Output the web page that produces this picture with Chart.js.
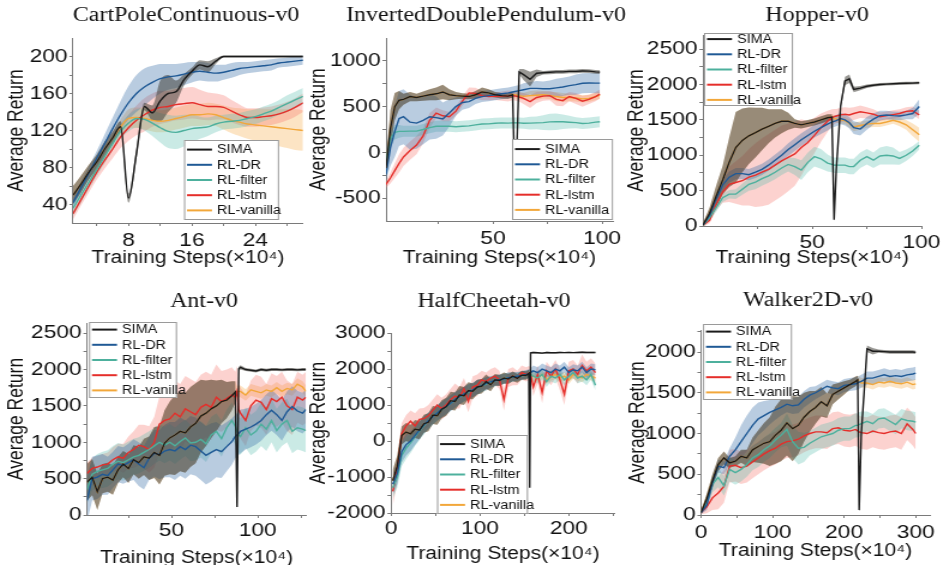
<!DOCTYPE html>
<html>
<head>
<meta charset="utf-8">
<script src="https://cdn.jsdelivr.net/npm/chart.js@4.4.0/dist/chart.umd.min.js"></script>
<style>
html, body { margin: 0; padding: 0; background: #fff; width: 943px; height: 565px; overflow: hidden; position: relative; }
</style>
</head>
<body>
<script>
// ---- data ----
const SERIES = ['SIMA', 'RL-DR', 'RL-filter', 'RL-lstm', 'RL-vanilla'];

// CartPoleContinuous-v0
const cpSteps = [1,2,3,4,5,6,7,8,9,10,11,12,13,14,15,16,17,18,19,20,21,22,23,24,25,26,27,28,29,30];
const cpSima = [50,62,75,86,100,112,124,47,95,146,139,152,160,162,175,184,191,189,195,200,200,200,200,200,200,200,200,200,200,200];
const cpSimaSd = [10,9,8,8,8,7,6,5,6,4,8,22,20,12,6,4,5,6,3,1,1,1,1,1,1,1,1,1,1,1];
const cpDr = [42,58,74,90,106,122,137,150,160,167,172,176,178,179,181,183,184,183,182,183,185,187,188,189,190,191,193,194,195,196];
const cpDrSd = [5,6,7,8,10,12,15,18,20,20,18,16,14,13,12,11,10,10,9,8,8,7,6,6,6,6,5,5,5,5];
const cpFilter = [36,50,64,78,92,106,119,128,133,132,128,123,119,118,120,122,123,124,127,129,130,131,133,135,138,141,145,149,153,157];
const cpFilterSd = [8,8,7,7,7,7,8,9,10,12,14,16,18,18,17,15,12,10,9,8,8,8,8,8,8,8,8,9,9,9];
const cpLstm = [30,45,60,75,88,100,113,123,131,137,142,145,146,148,149,150,148,146,146,145,141,137,134,134,135,136,138,141,145,150];
const cpLstmSd = [6,6,7,8,9,10,12,14,16,18,18,18,17,17,17,17,16,15,14,13,12,11,10,10,10,10,10,10,10,10];
const cpVanilla = [50,62,75,86,100,112,124,133,134,133,131,130,131,133,135,137,137,138,137,134,131,129,127,126,125,124,123,122,121,120];
const cpVanillaSd = [10,9,8,8,8,7,8,10,11,12,12,12,12,12,12,12,12,12,12,13,14,15,16,17,18,19,20,21,22,22];
const cpXTicks = [8, 16, 24];
const cpXMinor = [4, 12, 20, 28];
const cpYTicks = [40, 80, 120, 160, 200];
const cpYMinor = [60, 100, 140, 180];

// InvertedDoublePendulum-v0
const idpSteps = [1,3,5,7,9,12,15,18,21,24,27,30,33,36,39,42,45,48,51,54,57,59,60,61,62,64,67,70,73,76,79,82,85,88,91,94,97,99];
const idpSima = [-170,260,500,570,580,610,600,615,630,640,660,630,620,615,610,630,660,650,630,620,615,630,-320,100,880,850,800,865,870,875,880,880,885,885,890,888,880,877];
const idpSimaSd = [80,200,150,100,60,50,40,50,60,70,80,60,40,30,30,40,50,40,30,30,30,30,20,20,30,60,80,40,20,20,20,20,20,20,20,20,20,20];
const idpDr = [-240,50,230,370,390,330,320,350,390,380,365,430,500,545,555,590,610,620,630,640,650,660,665,670,675,685,700,700,695,695,705,715,730,740,755,758,757,757];
const idpDrSd = [60,200,280,300,300,300,280,260,250,230,180,150,100,80,70,60,60,60,60,60,60,60,60,60,60,70,70,80,80,90,100,100,100,110,110,110,110,110];
const idpFilter = [-100,150,220,230,230,232,232,250,270,285,286,286,280,286,290,300,310,312,318,322,320,322,322,322,322,318,320,322,325,333,335,335,330,325,315,320,330,335];
const idpFilterSd = [60,80,80,70,60,60,60,60,60,60,60,60,60,60,60,60,60,60,60,60,60,60,60,60,60,60,70,70,80,90,90,80,70,60,60,60,60,60];
const idpLstm = [-350,-280,-200,-120,-50,20,80,180,350,430,400,390,450,560,650,645,620,610,612,615,615,620,618,612,605,590,555,600,615,620,580,565,610,590,560,580,610,638];
const idpLstmSd = [40,60,80,100,100,100,100,80,80,60,60,50,50,50,60,60,50,40,40,50,60,50,50,50,50,60,70,60,50,50,70,60,50,60,60,50,50,50];
const idpVanilla = [-170,260,500,570,580,610,600,615,630,640,660,630,620,615,610,630,660,650,630,620,615,630,630,625,620,612,620,625,630,623,610,600,600,595,585,590,610,625];
const idpVanillaSd = [80,200,150,100,60,50,40,50,60,70,80,60,40,30,30,40,50,40,30,30,30,30,40,40,40,40,50,50,40,40,50,50,40,40,40,40,40,40];
const idpXTicks = [50, 100];
const idpXMinor = [25, 75];
const idpYTicks = [-500, 0, 500, 1000];
const idpYMinor = [-250, 250, 750];

// Hopper-v0
const hopSteps = [0,3,6,9,12,15,18,21,24,27,30,33,36,39,42,45,48,51,54,57,59,60,61,63,65,67,69,72,75,78,81,84,87,90,93,96,99];
const hopSima = [14,180,420,650,900,1110,1210,1275,1320,1370,1410,1450,1480,1480,1450,1430,1450,1470,1500,1530,1540,90,800,1700,2050,2080,1930,1950,1975,1990,2000,2005,2010,2015,2018,2020,2024];
const hopSimaSd = [30,80,150,200,350,500,450,400,350,300,240,200,170,120,60,50,50,50,50,50,40,30,30,40,60,60,40,30,25,20,20,20,20,20,20,20,20];
const hopDr = [14,150,380,580,690,740,740,725,760,800,860,930,1000,1080,1150,1220,1280,1340,1390,1440,1470,1480,1490,1520,1500,1460,1390,1370,1450,1510,1560,1570,1560,1555,1570,1590,1690];
const hopDrSd = [20,40,60,80,80,80,80,80,80,80,80,80,80,90,90,90,90,90,90,90,80,80,80,80,80,80,90,90,90,80,70,60,60,60,60,80,100];
const hopFilter = [10,120,260,400,450,450,520,590,620,670,710,760,820,870,840,790,900,980,950,890,870,860,860,860,860,840,840,930,980,930,990,1000,990,955,1000,1060,1140];
const hopFilterSd = [20,40,60,60,60,70,80,90,100,100,100,100,100,100,120,140,140,140,140,120,110,110,110,110,110,110,110,110,110,110,120,130,120,90,80,70,60];
const hopLstm = [10,80,300,480,590,615,640,690,720,760,800,860,920,970,1020,1110,1180,1280,1390,1480,1530,1545,1555,1570,1580,1570,1590,1615,1600,1580,1545,1560,1575,1590,1620,1630,1570];
const hopLstmSd = [20,40,80,150,250,300,350,400,450,480,500,500,500,480,450,400,300,250,200,150,120,110,100,100,100,100,90,90,80,70,60,60,60,60,60,60,60];
const hopVanilla = [14,180,420,650,900,1110,1210,1275,1320,1370,1410,1450,1480,1480,1450,1430,1450,1470,1500,1530,1540,1520,1510,1500,1490,1450,1400,1420,1440,1450,1450,1470,1495,1470,1430,1360,1290];
const hopVanillaSd = [30,80,150,200,350,500,450,400,350,300,240,200,170,120,60,50,50,50,50,50,40,50,50,50,50,60,60,60,50,50,50,50,50,60,70,90,100];
const hopXTicks = [50, 100];
const hopXMinor = [25, 75];
const hopYTicks = [0, 500, 1000, 1500, 2000, 2500];
const hopYMinor = [250, 750, 1250, 1750, 2250];

// Ant-v0
const antSteps = [1,4,7,10,13,16,19,22,25,28,31,34,37,40,43,46,49,52,55,58,61,64,67,70,73,76,79,82,85,87,88,89,90,93,96,99,102,105,108,111,114,117,120,123,126,128];
const antSima = [450,520,320,500,520,480,620,700,640,760,720,800,780,860,820,990,1060,1100,1150,1130,1210,1260,1360,1400,1460,1500,1560,1580,1640,1690,110,2010,2030,2000,1990,1980,2000,1990,2000,2000,1995,2000,2000,1995,2000,2000];
const antSimaSd = [250,250,250,200,200,200,180,180,200,200,220,250,300,350,400,450,500,550,550,550,550,550,500,450,400,350,300,250,200,150,50,30,30,20,20,20,20,20,20,20,20,20,20,20,20,20];
const antDr = [200,500,520,560,540,620,700,680,720,760,700,650,780,850,830,880,900,880,940,900,960,940,880,820,860,900,870,940,1010,1080,1100,1120,1150,1180,1210,1250,1300,1380,1440,1380,1300,1420,1490,1430,1400,1450];
const antDrSd = [300,300,300,280,260,250,250,250,260,280,300,300,300,320,340,360,380,400,400,400,400,400,400,400,400,380,360,340,320,300,300,300,300,280,280,280,280,280,280,280,280,280,280,280,280,280];
const antFilter = [350,560,600,620,640,700,740,720,760,800,820,860,900,950,1000,960,1000,950,1010,1060,990,1000,1040,980,1100,1150,1050,1200,1300,1220,1150,1100,1080,1200,1100,1150,1250,1180,1300,1160,1250,1300,1150,1200,1180,1160];
const antFilterSd = [200,220,240,250,250,250,250,250,250,250,250,250,250,250,250,250,250,250,250,250,250,250,250,250,250,250,250,250,250,250,250,250,250,280,280,280,300,300,300,300,300,300,300,300,300,300];
const antLstm = [570,640,660,690,700,760,800,780,860,900,960,940,900,1000,1250,1300,1320,1400,1350,1460,1420,1380,1480,1520,1480,1620,1560,1600,1650,1620,1700,1450,1400,1300,1500,1580,1550,1450,1600,1560,1620,1500,1450,1620,1580,1620];
const antLstmSd = [150,150,150,150,160,170,180,200,220,250,280,300,320,350,380,400,420,450,450,450,450,450,450,450,450,450,420,400,380,350,350,350,350,350,350,350,350,350,350,350,350,350,350,350,350,350];
const antVanilla = [450,520,320,500,520,480,620,700,640,760,720,800,780,860,820,990,1060,1100,1150,1130,1210,1260,1360,1400,1460,1500,1560,1580,1640,1690,1690,1700,1700,1650,1720,1700,1680,1720,1700,1750,1700,1740,1720,1800,1760,1700];
const antVanillaSd = [250,250,250,200,200,200,180,180,200,200,220,250,300,350,400,450,500,550,550,550,550,550,500,450,400,350,300,250,200,150,80,80,80,80,80,80,80,80,80,80,80,80,80,80,80,80];
const antXTicks = [50, 100];
const antXMinor = [25, 75, 125];
const antYTicks = [0, 500, 1000, 1500, 2000, 2500];
const antYMinor = [250, 750, 1250, 1750, 2250];

// HalfCheetah-v0
const hcSteps = [2,7,12,17,22,27,32,37,42,47,52,57,62,67,72,77,82,87,92,97,102,107,112,117,122,127,132,137,142,147,152,155,156,157,160,165,170,175,180,185,190,195,200,205,210,215,220,225,230];
const hcSima = [-1100,-700,150,250,200,330,300,480,520,720,700,880,950,1120,1100,1280,1250,1400,1380,1500,1520,1650,1560,1700,1680,1750,1720,1800,1740,1830,1820,1880,-1300,2450,2460,2450,2440,2460,2450,2450,2460,2455,2460,2455,2460,2465,2460,2460,2460];
const hcSimaSd = [300,300,250,250,250,250,250,250,250,250,250,250,250,250,250,250,250,230,220,200,200,200,180,160,150,150,140,130,120,120,120,100,30,20,20,20,20,20,20,20,20,20,20,20,20,20,20,20,20];
const hcDr = [-1200,-900,-300,-100,0,150,300,450,560,680,780,880,960,1050,1150,1230,1300,1380,1420,1500,1540,1600,1640,1680,1700,1720,1760,1780,1800,1820,1850,1870,1880,1900,1950,1900,2000,1950,1900,2000,1950,2050,1900,1980,1950,2050,1900,2000,1980];
const hcDrSd = [300,300,300,300,280,260,250,240,230,220,220,220,220,220,220,200,200,200,200,200,180,180,160,150,150,140,140,130,120,120,120,120,120,120,150,150,150,150,150,150,150,150,150,150,150,150,150,150,150];
const hcFilter = [-1300,-1000,-400,-200,-50,120,280,430,560,680,780,870,950,1050,1120,1220,1290,1360,1420,1480,1540,1580,1640,1670,1700,1730,1760,1770,1790,1810,1840,1850,1850,1860,1800,1750,1850,1650,1800,1750,1850,1700,1800,1900,1750,1800,1700,1850,1550];
const hcFilterSd = [300,300,300,300,280,260,250,240,230,220,220,220,220,220,220,200,200,200,200,200,180,180,160,150,150,140,140,130,120,120,120,120,120,120,150,150,150,150,150,150,150,150,150,150,150,150,150,150,150];
const hcLstm = [-1400,-800,200,420,550,420,600,620,700,850,1000,900,1000,1150,1250,1200,1450,1100,1500,1550,1700,1650,1750,1800,1700,1150,1750,1800,1750,1900,1850,1880,1870,1860,1500,1850,1350,1950,1800,2000,1700,1300,1950,2000,1850,2100,1950,2050,1900];
const hcLstmSd = [400,350,300,300,300,350,300,300,300,300,300,300,300,300,350,300,300,300,300,300,250,250,250,250,250,300,250,250,200,200,200,200,200,200,250,250,300,250,250,250,300,300,250,250,250,300,250,250,250];
const hcVanilla = [-1100,-700,150,250,200,330,300,480,520,720,700,880,950,1120,1100,1280,1250,1400,1380,1500,1520,1650,1560,1700,1680,1750,1720,1800,1740,1830,1820,1880,1860,1850,1800,1750,1850,1700,1800,1850,1750,1800,1700,1850,1800,1750,1850,1800,1750];
const hcVanillaSd = [300,300,250,250,250,250,250,250,250,250,250,250,250,250,250,250,250,230,220,200,200,200,180,160,150,150,140,130,120,120,120,100,100,100,120,120,120,120,120,120,120,120,120,120,120,120,120,120,120];
const hcXTicks = [0, 100, 200];
const hcXMinor = [50, 150, 250];
const hcYTicks = [-2000, -1000, 0, 1000, 2000, 3000];
const hcYMinor = [-1500, -500, 500, 1500, 2500];

// Walker2D-v0
const wkSteps = [0,8,16,24,32,40,48,56,64,72,80,88,96,104,112,120,128,136,144,152,160,168,176,184,192,200,208,216,219,221,224,232,240,248,256,264,272,280,288,296,300];
const wkSima = [30,200,420,620,700,640,660,720,700,800,840,880,900,980,1040,1130,1060,1100,1200,1270,1320,1390,1340,1480,1520,1560,1600,1640,1660,60,1000,2040,2010,2010,2005,2000,2000,2000,2000,2000,1995];
const wkSimaSd = [20,60,80,80,80,60,60,80,100,150,200,250,300,350,380,400,400,350,300,250,200,180,150,120,100,80,60,60,50,30,30,40,40,20,20,20,20,20,20,20,20];
const wkDr = [30,120,400,600,580,720,800,900,1000,1100,1180,1220,1260,1290,1320,1360,1340,1350,1420,1470,1500,1540,1580,1560,1550,1590,1600,1610,1620,1630,1640,1680,1680,1700,1720,1700,1710,1700,1720,1730,1740];
const wkDrSd = [20,60,80,80,80,100,150,200,220,220,200,180,150,120,100,100,100,100,100,100,80,80,80,80,80,80,80,80,80,80,80,80,80,80,80,80,80,80,80,80,80];
const wkFilter = [30,150,380,460,360,560,520,560,620,700,740,800,850,920,980,1050,900,820,830,880,920,960,980,1000,1040,1060,1060,1100,1100,1110,1120,1150,1120,1180,1190,1150,1110,1180,1160,1150,1140];
const wkFilterSd = [20,60,100,120,120,150,150,150,150,150,150,150,150,150,150,200,200,200,180,150,150,150,150,150,150,150,150,150,150,150,150,120,120,120,120,120,120,120,120,120,120];
const wkLstm = [30,100,210,270,350,600,610,580,600,650,700,750,790,820,870,900,910,930,970,1000,1020,1020,1010,1060,1070,1040,1030,1050,1030,1020,1010,1000,1030,1010,1000,1020,1030,1000,1120,1050,1000];
const wkLstmSd = [20,80,150,200,200,200,200,200,200,200,200,200,200,200,200,200,200,200,200,200,200,200,200,200,200,200,200,200,200,200,200,200,200,200,200,200,200,200,200,200,200];
const wkVanilla = [30,200,420,620,700,640,660,720,700,800,840,880,900,980,1040,1130,1060,1100,1200,1270,1320,1390,1340,1480,1520,1560,1600,1640,1660,1640,1620,1620,1600,1630,1620,1640,1620,1610,1630,1600,1610];
const wkVanillaSd = [20,60,80,80,80,60,60,80,100,150,200,250,300,350,380,400,400,350,300,250,200,180,150,120,100,80,60,60,50,60,60,60,60,60,60,60,60,60,60,60,60];
const wkXTicks = [0, 100, 200, 300];
const wkXMinor = [50, 150, 250];
const wkYTicks = [0, 500, 1000, 1500, 2000];
const wkYMinor = [250, 750, 1250, 1750, 2250];

// ---- styling ----
const LINE_COLORS = ['#1b1b1b', '#1f5995', '#4db09d', '#e52e2a', '#f2a73a'];
const BAND_COLORS = ['rgba(60,58,50,0.52)', 'rgba(60,115,170,0.36)', 'rgba(95,190,175,0.33)', 'rgba(245,115,105,0.32)', 'rgba(247,178,85,0.35)'];
const STRETCH = 1.2;   // text in the figure is wider than it is tall
const AXIS = '#7a7a7a';

// page-pixel layout for each panel
const panels = [
    { title: 'CartPoleContinuous-v0', steps: cpSteps, smooth: true,
      series: [cpSima, cpDr, cpFilter, cpLstm, cpVanilla], spread: [cpSimaSd, cpDrSd, cpFilterSd, cpLstmSd, cpVanillaSd],
      xRange: [1, 30], yRange: [20, 220], xTicks: cpXTicks, xMinor: cpXMinor, yTicks: cpYTicks, yMinor: cpYMinor,
      cell: [0, 0, 308, 282], plot: [73, 38, 303, 223], titleAt: [186, 15.5], yTitleX: 17, xTitleY: 258, xLabelY: 240.5,
      legend: [184, 140, 95, 80] },
    { title: 'InvertedDoublePendulum-v0', steps: idpSteps,
      series: [idpSima, idpDr, idpFilter, idpLstm, idpVanilla], spread: [idpSimaSd, idpDrSd, idpFilterSd, idpLstmSd, idpVanillaSd],
      xRange: [1, 105], yRange: [-750, 1250], xTicks: idpXTicks, xMinor: idpXMinor, yTicks: idpYTicks, yMinor: idpYMinor,
      cell: [308, 0, 318, 282], plot: [386, 38, 614, 221], titleAt: [486, 15.5], yTitleX: 319, xTitleY: 258.5, xLabelY: 239,
      legend: [512, 139, 101, 81] },
    { title: 'Hopper-v0', steps: hopSteps,
      series: [hopSima, hopDr, hopFilter, hopLstm, hopVanilla], spread: [hopSimaSd, hopDrSd, hopFilterSd, hopLstmSd, hopVanillaSd],
      xRange: [0, 100], yRange: [0, 2700], xTicks: hopXTicks, xMinor: hopXMinor, yTicks: hopYTicks, yMinor: hopYMinor,
      cell: [626, 0, 317, 282], plot: [703, 35, 922, 226], titleAt: [817, 15.5], yTitleX: 637.5, xTitleY: 258, xLabelY: 242.5,
      legend: [704, 33, 89, 73] },
    { title: 'Ant-v0', steps: antSteps,
      series: [antSima, antDr, antFilter, antLstm, antVanilla], spread: [antSimaSd, antDrSd, antFilterSd, antLstmSd, antVanillaSd],
      xRange: [1, 128], yRange: [0, 2640], xTicks: antXTicks, xMinor: antXMinor, yTicks: antYTicks, yMinor: antYMinor,
      cell: [0, 282, 308, 283], plot: [87, 323, 306, 515], titleAt: [204, 302], yTitleX: 17.5, xTitleY: 558, xLabelY: 531,
      legend: [89, 322, 88, 76] },
    { title: 'HalfCheetah-v0', steps: hcSteps,
      series: [hcSima, hcDr, hcFilter, hcLstm, hcVanilla], spread: [hcSimaSd, hcDrSd, hcFilterSd, hcLstmSd, hcVanillaSd],
      xRange: [0, 252], yRange: [-2000, 3000], xTicks: hcXTicks, xMinor: hcXMinor, yTicks: hcYTicks, yMinor: hcYMinor,
      cell: [308, 282, 318, 283], plot: [391, 333, 615, 513], titleAt: [494, 302], yTitleX: 318.5, xTitleY: 554, xLabelY: 529,
      legend: [437, 435, 91, 79] },
    { title: 'Walker2D-v0', steps: wkSteps,
      series: [wkSima, wkDr, wkFilter, wkLstm, wkVanilla], spread: [wkSimaSd, wkDrSd, wkFilterSd, wkLstmSd, wkVanillaSd],
      xRange: [0, 320], yRange: [0, 2270], xTicks: wkXTicks, xMinor: wkXMinor, yTicks: wkYTicks, yMinor: wkYMinor,
      cell: [626, 282, 317, 283], plot: [701, 330, 930, 515], titleAt: [808, 301], yTitleX: 638.5, xTitleY: 551, xLabelY: 532.5,
      legend: [703, 324, 89, 76] }
];

function makePanel(p)
{
    const [cl, ct, cw, ch] = p.cell;
    const [L, T, R, B] = p.plot;
    const W = Math.round(cw / STRETCH);
    const sx = cw / W;

    const box = document.createElement('div');
    box.style.cssText = 'position:absolute;left:' + cl + 'px;top:' + ct + 'px;width:' + W + 'px;height:' + ch +
        'px;transform:scaleX(' + sx + ');transform-origin:0 0;';
    const canvas = document.createElement('canvas');
    canvas.width = W;
    canvas.height = ch;
    box.appendChild(canvas);
    document.body.appendChild(box);

    const mode = p.smooth ? 'monotone' : 'default';
    const datasets = [];
    p.series.forEach((ys, i) => {
        datasets.push({
            label: SERIES[i], data: ys, borderColor: LINE_COLORS[i], borderWidth: 1.4,
            pointRadius: 0, fill: false, order: i, cubicInterpolationMode: mode
        });
    });
    // shaded spread: upper edge fills down to the lower edge that follows it
    p.series.forEach((ys, i) => {
        const sd = p.spread[i];
        datasets.push({
            label: '', data: ys.map((v, k) => v + sd[k]), borderColor: 'rgba(0,0,0,0)', borderWidth: 0,
            pointRadius: 0, backgroundColor: BAND_COLORS[i], fill: '+1', order: 10 + i, cubicInterpolationMode: mode
        });
        datasets.push({
            label: '', data: ys.map((v, k) => v - sd[k]), borderColor: 'rgba(0,0,0,0)', borderWidth: 0,
            pointRadius: 0, fill: false, order: 10 + i, cubicInterpolationMode: mode
        });
    });

    const tickFont = { family: 'Liberation Sans', size: 19, lineHeight: 1.2 };
    const titleFont = { family: 'Liberation Sans', size: 17.5, lineHeight: 1 };
    const allX = p.xTicks.concat(p.xMinor).sort((a, b) => a - b);
    const allY = p.yTicks.concat(p.yMinor).sort((a, b) => a - b);

    const overlay = {
        id: 'overlay',
        afterDraw(chart) {
            const ctx = chart.ctx;
            ctx.save();
            ctx.fillStyle = '#111';
            ctx.font = '20px "Liberation Serif"';
            ctx.textAlign = 'center';
            ctx.textBaseline = 'middle';
            ctx.fillText(p.title, (p.titleAt[0] - cl) / sx, p.titleAt[1] - ct);

            const [bx, by, bw, bh] = p.legend;
            const x0 = (bx - cl) / sx, y0 = by - ct, w = bw / sx;
            ctx.fillStyle = '#fff';
            ctx.fillRect(x0, y0, w, bh);
            ctx.strokeStyle = '#9a9a9a';
            ctx.lineWidth = 1;
            ctx.strokeRect(x0 + 0.5, y0 + 0.5, w - 1, bh - 1);
            const gap = 15.2;
            const first = y0 + (bh - 4 * gap) / 2;
            ctx.font = '12px "Liberation Sans"';
            ctx.textAlign = 'left';
            SERIES.forEach((name, i) => {
                const y = first + i * gap;
                ctx.strokeStyle = LINE_COLORS[i];
                ctx.lineWidth = 2;
                ctx.beginPath();
                ctx.moveTo(x0 + 3 / sx, y);
                ctx.lineTo(x0 + 28 / sx, y);
                ctx.stroke();
                ctx.fillStyle = '#111';
                ctx.fillText(name, x0 + 33 / sx, y + 0.5);
            });
            ctx.restore();
        }
    };

    new Chart(canvas, {
        type: 'line',
        data: { labels: p.steps, datasets: datasets },
        options: {
            responsive: false,
            devicePixelRatio: 1,
            animation: false,
            events: [],
            layout: { padding: { left: 0, top: T - ct, right: (cl + cw - R) / sx, bottom: 0 } },
            plugins: { legend: { display: false }, tooltip: { enabled: false }, title: { display: false } },
            scales: {
                x: {
                    type: 'linear', min: p.xRange[0], max: p.xRange[1],
                    afterBuildTicks: s => { s.ticks = allX.map(v => ({ value: v })); },
                    afterFit: s => { s.height = ct + ch - B; },
                    ticks: {
                        autoSkip: false, maxRotation: 0, color: '#111', font: tickFont,
                        padding: (p.xLabelY - B) - 3 - 11.4,
                        callback: v => p.xTicks.includes(v) ? String(v) : ''
                    },
                    grid: { drawOnChartArea: false, drawTicks: true, tickLength: 3, color: AXIS },
                    border: { display: true, color: AXIS },
                    title: {
                        display: true, text: 'Training Steps(×10⁴)', color: '#111', font: titleFont,
                        padding: { top: 0, bottom: (ct + ch - p.xTitleY) - 8.75 }
                    }
                },
                y: {
                    type: 'linear', min: p.yRange[0], max: p.yRange[1],
                    afterBuildTicks: s => { s.ticks = allY.map(v => ({ value: v })); },
                    afterFit: s => { s.width = (L - cl) / sx; },
                    ticks: {
                        autoSkip: false, color: '#111', font: tickFont, padding: 1.5,
                        callback: v => p.yTicks.includes(v) ? String(v) : ''
                    },
                    grid: { drawOnChartArea: false, drawTicks: true, tickLength: 3, color: AXIS },
                    border: { display: true, color: AXIS },
                    title: {
                        display: true, text: 'Average Return', color: '#111', font: titleFont,
                        padding: { top: (p.yTitleX - cl) / sx - 8.75, bottom: 0 }
                    }
                }
            }
        },
        plugins: [overlay]
    });
}

function prepareCharts()
{
    panels.forEach(makePanel);
}

window.addEventListener("load", prepareCharts);
</script>
</body>
</html>
